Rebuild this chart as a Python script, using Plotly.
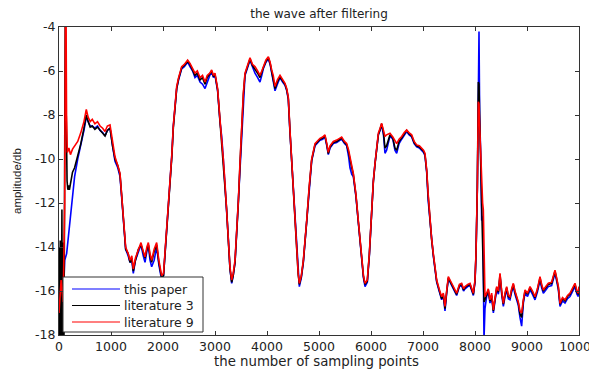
import plotly.graph_objects as go

# ---------------- data ----------------
x_tick_values = [0, 1000, 2000, 3000, 4000, 5000, 6000, 7000, 8000, 9000, 10000]
x_tick_labels = ["0", "1000", "2000", "3000", "4000", "5000", "6000", "7000", "8000", "9000", "10000"]
y_tick_values = [-18, -16, -14, -12, -10, -8, -6, -4]
y_tick_labels = ["-18", "-16", "-14", "-12", "-10", "-8", "-6", "-4"]

# start of each series (x < 300)
red_x0 = [0, 40, 80, 110, 125, 135, 145, 160, 190, 220, 260]
red_y0 = [-17, -15.5, -16.5, -12, -3.0, -3.2, -8.0, -9.7, -9.5, -9.8, -9.55]
black_x0 = [0, 8, 16, 24, 32, 40, 48, 56, 64, 72, 80, 88, 96, 104, 112, 120,
            130, 140, 155, 170, 185, 200, 230, 260]
black_y0 = [-18, -14, -18, -13.7, -18, -14.2, -18, -12.3, -18, -13.8, -18, -14.5,
            -18, -10, -4, -3.5, -6.3, -9.3, -11.0, -11.4, -11.2, -11.4, -10.9, -10.6]
blue_x0 = [50, 80, 110, 147, 180, 212, 250, 276]
blue_y0 = [-18.2, -16.5, -14.6, -14.3, -13.5, -12.8, -11.8, -11.3]

# segment A: first hump
x_a = [300, 360, 420, 480, 525, 560, 600, 640, 690, 740, 790, 840, 885, 930, 981, 1030, 1077]
red_a = [-9.4, -9.2, -8.8, -8.3, -7.75, -8.1, -8.3, -8.2, -8.4, -8.3, -8.5, -8.6, -8.75, -8.5, -8.45, -9.3, -9.9]
blue_a = [-10.8, -10.0, -9.4, -8.7, -8.1, -8.3, -8.5, -8.5, -8.6, -8.5, -8.7, -8.8, -8.95, -8.7, -8.6, -9.4, -10.1]
black_a = [-10.4, -9.9, -9.3, -8.6, -8.0, -8.3, -8.55, -8.5, -8.65, -8.55, -8.7, -8.85, -8.95, -8.7, -8.6, -9.4, -10.0]

# segment B: first valley
x_b = [1130, 1173, 1210, 1237, 1282, 1330, 1365, 1400, 1429, 1470, 1526, 1577, 1620, 1654,
       1690, 1718, 1750, 1782, 1830, 1878, 1920, 1974, 2010, 2038, 2080, 2135]
red_b = [-10.3, -10.65, -11.8, -12.8, -14.0, -14.3, -14.6, -14.4, -15.0, -14.5, -14.1, -13.8, -14.2,
         -14.45, -14.0, -13.8, -14.3, -14.6, -14.1, -13.8, -14.6, -15.3, -15.2, -14.3, -12.8, -11.26]
blue_b = [-10.4, -10.8, -11.9, -12.9, -14.1, -14.4, -14.7, -14.6, -15.2, -14.6, -14.2, -13.9, -14.4,
          -14.7, -14.2, -13.9, -14.6, -14.9, -14.6, -14.0, -14.8, -15.5, -15.3, -14.4, -12.8, -11.3]
black_b = [-10.3, -10.7, -11.8, -12.8, -14.1, -14.3, -14.7, -14.5, -15.1, -14.6, -14.1, -13.9, -14.3,
           -14.5, -14.1, -13.9, -14.4, -14.7, -14.2, -13.9, -14.7, -15.4, -15.3, -14.4, -12.9, -11.3]

# segment C: second hump and valley
x_c = [2170, 2198, 2230, 2263, 2300, 2359, 2410, 2474, 2519, 2570, 2615, 2660, 2712, 2760, 2808,
       2850, 2900, 2936, 2970, 3000, 3050, 3096, 3130, 3160, 3190, 3224, 3256, 3288, 3321, 3350,
       3385, 3420, 3449, 3480, 3513, 3545, 3577]
red_c = [-9.8, -8.5, -7.5, -6.7, -6.3, -5.8, -5.7, -5.5, -5.65, -5.9, -6.1, -6.0, -6.3, -6.2, -6.5,
         -6.2, -6.1, -5.95, -6.2, -6.1, -6.8, -8.2, -9.0, -10.0, -11.0, -12.2, -13.6, -14.9, -15.5, -15.2,
         -14.6, -13.2, -11.9, -10.2, -8.5, -7.0, -6.1]
blue_c = [-9.8, -8.5, -7.6, -6.8, -6.4, -5.9, -5.8, -5.6, -5.8, -6.0, -6.3, -6.2, -6.5, -6.6, -6.8,
          -6.5, -6.2, -6.05, -6.3, -6.2, -6.9, -8.3, -9.0, -10.0, -11.0, -12.2, -13.6, -15.0, -15.65, -15.3,
          -14.7, -13.2, -11.9, -10.2, -8.5, -7.1, -6.2]
black_c = [-9.9, -8.6, -7.6, -6.8, -6.35, -5.85, -5.75, -5.55, -5.7, -5.95, -6.2, -6.1, -6.4, -6.3, -6.6,
           -6.3, -6.15, -6.0, -6.25, -6.15, -6.85, -8.3, -9.1, -10.1, -11.1, -12.3, -13.7, -15.0, -15.6, -15.3,
           -14.7, -13.3, -12.0, -10.3, -8.6, -7.1, -6.15]

# segment D: third hump and valley
x_d = [3620, 3673, 3720, 3769, 3820, 3865, 3900, 3929, 3980, 4026, 4060, 4090, 4120, 4154, 4200,
       4250, 4300, 4346, 4380, 4410, 4442, 4475, 4506, 4540, 4570, 4600, 4622, 4660, 4699, 4730,
       4763, 4810, 4859]
red_d = [-5.8, -5.4, -5.7, -5.8, -6.0, -6.2, -6.0, -5.8, -5.5, -5.35, -5.6, -5.95, -6.2, -6.7, -6.4,
         -6.2, -6.4, -6.56, -6.8, -7.2, -8.7, -10.0, -11.26, -12.8, -14.3, -15.2, -15.65, -15.3, -14.6, -13.8,
         -12.8, -11.3, -10.0]
blue_d = [-5.9, -5.5, -5.8, -6.1, -6.3, -6.5, -6.2, -5.9, -5.6, -5.45, -5.7, -6.05, -6.4, -6.9, -6.6,
          -6.3, -6.5, -6.65, -6.9, -7.3, -8.8, -10.1, -11.3, -12.8, -14.3, -15.3, -15.8, -15.4, -14.7, -13.8,
          -12.8, -11.3, -10.1]
black_d = [-5.85, -5.45, -5.75, -5.9, -6.1, -6.3, -6.1, -5.85, -5.55, -5.4, -5.65, -6.0, -6.3, -6.8, -6.5,
           -6.25, -6.45, -6.6, -6.85, -7.25, -8.75, -10.05, -11.3, -12.85, -14.35, -15.25, -15.7, -15.35, -14.65, -13.85,
           -12.85, -11.35, -10.05]

# segment E: fourth plateau and valley
x_e = [4923, 4970, 5019, 5070, 5115, 5150, 5179, 5212, 5276, 5340, 5404, 5436, 5490, 5532, 5570,
       5596, 5630, 5660, 5710, 5756, 5790, 5821, 5855, 5885, 5929, 5968, 6013, 6045, 6077, 6110,
       6141, 6175]
red_e = [-9.3, -9.2, -9.06, -9.0, -8.9, -9.3, -9.7, -9.4, -9.2, -9.14, -9.06, -9.0, -9.2, -9.29, -9.6,
         -10.0, -10.3, -10.65, -11.6, -12.8, -13.8, -14.6, -15.3, -15.65, -15.5, -14.3, -12.2, -11.0, -10.2, -9.4,
         -8.83, -8.6]
blue_e = [-9.4, -9.3, -9.15, -9.1, -9.0, -9.4, -9.8, -9.5, -9.3, -9.25, -9.15, -9.1, -9.3, -9.4, -9.9,
          -10.4, -10.7, -10.8, -11.7, -12.8, -13.8, -14.7, -15.4, -15.8, -15.6, -14.4, -12.2, -11.0, -10.2, -9.5,
          -8.9, -8.7]
black_e = [-9.35, -9.25, -9.1, -9.05, -8.95, -9.35, -9.75, -9.45, -9.25, -9.2, -9.1, -9.05, -9.25, -9.35, -9.7,
           -10.1, -10.4, -10.7, -11.65, -12.85, -13.85, -14.65, -15.35, -15.7, -15.55, -14.35, -12.25, -11.05, -10.25, -9.45,
           -8.9, -8.65]

# segment F: fifth plateau and drop
x_f = [6205, 6240, 6269, 6300, 6365, 6420, 6460, 6494, 6540, 6590, 6640, 6686, 6730, 6782, 6830,
       6878, 6930, 6974, 7010, 7038, 7071, 7100, 7135, 7165, 7198, 7230, 7263, 7310, 7359, 7390,
       7423, 7455, 7487]
red_f = [-8.38, -8.7, -8.98, -8.9, -8.83, -9.0, -9.2, -9.3, -9.1, -8.98, -8.8, -8.68, -8.8, -8.9, -9.2,
         -9.36, -9.4, -9.5, -9.6, -9.74, -10.5, -11.6, -12.8, -13.6, -14.3, -14.9, -15.5, -15.9, -16.26, -16.1,
         -16.7, -16.0, -15.35]
blue_f = [-8.45, -8.9, -9.74, -9.6, -8.95, -9.1, -9.6, -9.74, -9.3, -9.1, -8.9, -8.75, -8.9, -9.0, -9.3,
          -9.45, -9.5, -9.6, -9.7, -9.85, -10.6, -11.9, -12.9, -13.7, -14.4, -15.0, -15.6, -16.0, -16.4, -16.2,
          -16.9, -16.1, -15.45]
black_f = [-8.4, -8.8, -9.5, -9.4, -8.9, -9.05, -9.5, -9.6, -9.2, -9.05, -8.85, -8.7, -8.85, -8.95, -9.25,
           -9.4, -9.45, -9.55, -9.65, -9.8, -10.55, -11.7, -12.85, -13.65, -14.35, -14.95, -15.55, -15.95, -16.35, -16.15,
           -16.8, -16.05, -15.4]

# segment G: low plateau and spike near 8000
x_g = [7520, 7551, 7600, 7647, 7700, 7743, 7780, 7808, 7860, 7904, 7940, 7968, 8000, 8019, 8045,
       8064, 8077, 8090, 8109, 8128, 8147, 8160, 8173, 8192]
red_g = [-15.5, -15.65, -15.9, -16.1, -15.7, -15.65, -15.9, -15.8, -15.7, -15.65, -15.9, -16.1, -15.5, -14.3, -11.26,
         -7.4, -7.5, -8.5, -9.9, -11.0, -12.0, -12.3, -14.5, -16.26]
blue_g = [-15.6, -15.75, -16.0, -16.2, -15.8, -15.75, -16.0, -15.9, -15.8, -15.75, -16.0, -16.2, -15.6, -14.4, -11.4,
          -5.0, -4.2, -8.0, -9.74, -12.8, -12.6, -15.0, -18.2, -16.8]
black_g = [-15.55, -15.7, -15.95, -16.15, -15.75, -15.7, -15.95, -15.85, -15.75, -15.7, -15.95, -16.15, -15.55, -14.35, -11.3,
           -6.5, -6.6, -8.2, -10.0, -12.5, -13.5, -15.5, -16.5, -16.4]

# segment H: noisy tail
x_h = [8224, 8256, 8288, 8320, 8353, 8385, 8417, 8450, 8481, 8513,
       8545, 8577, 8609, 8641, 8673, 8705, 8737, 8769, 8801, 8833,
       8865, 8897, 8930, 8962, 9010, 9058, 9106, 9154, 9200, 9250,
       9282, 9314, 9362, 9410, 9474, 9538, 9570, 9603, 9635, 9683,
       9731, 9779, 9827, 9875, 9923, 9960, 9987, 10000]
red_h = [-16.1, -15.9, -16.4, -16.1, -16.86, -16.3, -15.8, -16.0, -15.2, -16.0,
         -16.56, -16.1, -15.8, -16.2, -16.26, -15.9, -15.65, -16.0, -16.26, -16.5,
         -16.9, -17.0, -16.4, -15.95, -16.1, -15.8, -16.0, -16.26, -15.9, -15.35,
         -15.7, -15.95, -15.8, -15.65, -15.6, -15.05, -15.4, -15.8, -16.56, -16.3,
         -16.4, -16.2, -16.1, -15.9, -15.65, -16.0, -16.1, -15.8]
blue_h = [-16.25, -16.05, -16.55, -16.25, -17.0, -16.45, -15.95, -16.15, -15.35, -16.15,
          -16.7, -16.25, -15.95, -16.35, -16.4, -16.05, -15.8, -16.15, -16.4, -16.65,
          -17.2, -17.6, -16.55, -16.1, -16.25, -15.95, -16.15, -16.4, -16.05, -15.5,
          -15.85, -16.1, -15.95, -15.8, -15.75, -15.2, -15.55, -15.95, -16.7, -16.45,
          -16.55, -16.35, -16.25, -16.05, -15.8, -16.15, -16.25, -15.95]
black_h = [-16.15, -15.95, -16.45, -16.2, -16.9, -16.35, -15.85, -16.05, -15.25, -16.05,
           -16.6, -16.15, -15.85, -16.25, -16.3, -15.95, -15.7, -16.05, -16.3, -16.55,
           -17.05, -17.2, -16.45, -16.0, -16.15, -15.85, -16.05, -16.3, -15.95, -15.4,
           -15.75, -16.0, -15.85, -15.7, -15.65, -15.1, -15.45, -15.85, -16.6, -16.35,
           -16.45, -16.25, -16.15, -15.95, -15.7, -16.05, -16.15, -15.85]

series_names = ["this paper", "literature 3", "literature 9"]
series_colors = ["#0000FF", "#000000", "#FF0000"]

# ---------------- assemble ----------------
x_main = x_a + x_b + x_c + x_d + x_e + x_f + x_g + x_h
blue_main = blue_a + blue_b + blue_c + blue_d + blue_e + blue_f + blue_g + blue_h
black_main = black_a + black_b + black_c + black_d + black_e + black_f + black_g + black_h
red_main = red_a + red_b + red_c + red_d + red_e + red_f + red_g + red_h

n = min(len(x_main), len(blue_main), len(black_main), len(red_main))

xs = [blue_x0 + x_main[:n], black_x0 + x_main[:n], red_x0 + x_main[:n]]
ys = [blue_y0 + blue_main[:n], black_y0 + black_main[:n], red_y0 + red_main[:n]]

fig = go.Figure()
for name, color, x, y in zip(series_names, series_colors, xs, ys):
    fig.add_trace(go.Scatter(x=x, y=y, mode="lines", name=name, showlegend=False,
                             line=dict(color=color, width=1.6)))

# The page body has an 8px margin, so the figure is sized/offset to compensate.
W, H = 589, 362
PW, PH = 520, 308          # plot-area size in px
wide_font = "DejaVu Sans, Verdana, sans-serif"
text_color = "#222222"
axis_common = dict(showline=True, linecolor="#333333", linewidth=1, mirror="ticks",
                   ticks="inside", ticklen=4, tickcolor="#333333", showgrid=False,
                   zeroline=False, automargin=False,
                   tickfont=dict(size=12.5, color=text_color, family=wide_font))

# legend box drawn in plot-area (paper) coordinates
def px_x(p):
    return (p - 59) / PW

def px_y(p):
    return (335 - p) / PH

shapes = [dict(type="rect", xref="paper", yref="paper",
               x0=px_x(63), x1=px_x(203), y0=px_y(332), y1=px_y(277),
               line=dict(color="#333333", width=1), fillcolor="white", layer="above")]
annotations = []
row_y = [289, 305.5, 322]
for name, color, ry in zip(series_names, series_colors, row_y):
    shapes.append(dict(type="line", xref="paper", yref="paper",
                       x0=px_x(72), x1=px_x(120), y0=px_y(ry), y1=px_y(ry),
                       line=dict(color=color, width=1.2), layer="above"))
    annotations.append(dict(text=name, xref="paper", yref="paper",
                            x=px_x(122), y=px_y(ry), xanchor="left", yanchor="middle",
                            showarrow=False, font=dict(size=12.5, color=text_color, family=wide_font)))

annotations += [
    dict(text="the number of sampling points", xref="paper", yref="paper",
         x=0.496, y=px_y(361), xanchor="center", yanchor="middle",
         showarrow=False, font=dict(size=13.3, color=text_color, family=wide_font)),
    dict(text="amplitude/db", xref="paper", yref="paper",
         x=px_x(17), y=0.5, xanchor="center", yanchor="middle",
         textangle=-90, showarrow=False,
         font=dict(size=11.5, color=text_color, family="Liberation Sans, Arial, sans-serif")),
]

fig.update_layout(
    width=W, height=H,
    margin=dict(l=51, r=18, t=19, b=35, autoexpand=False),
    paper_bgcolor="white", plot_bgcolor="white",
    font=dict(family=wide_font, color=text_color),
    title=dict(text="the wave after filtering", x=311 / W, xanchor="center",
               y=1 - 6 / H, yanchor="middle", font=dict(size=12, color=text_color)),
    xaxis=dict(range=[0, 10000], tickvals=x_tick_values, ticktext=x_tick_labels,
               ticklabeloverflow="allow", **axis_common),
    yaxis=dict(range=[-18, -4], tickvals=y_tick_values, ticktext=y_tick_labels, **axis_common),
    showlegend=False,
    shapes=shapes,
    annotations=annotations,
)

fig.write_html("out.html")
